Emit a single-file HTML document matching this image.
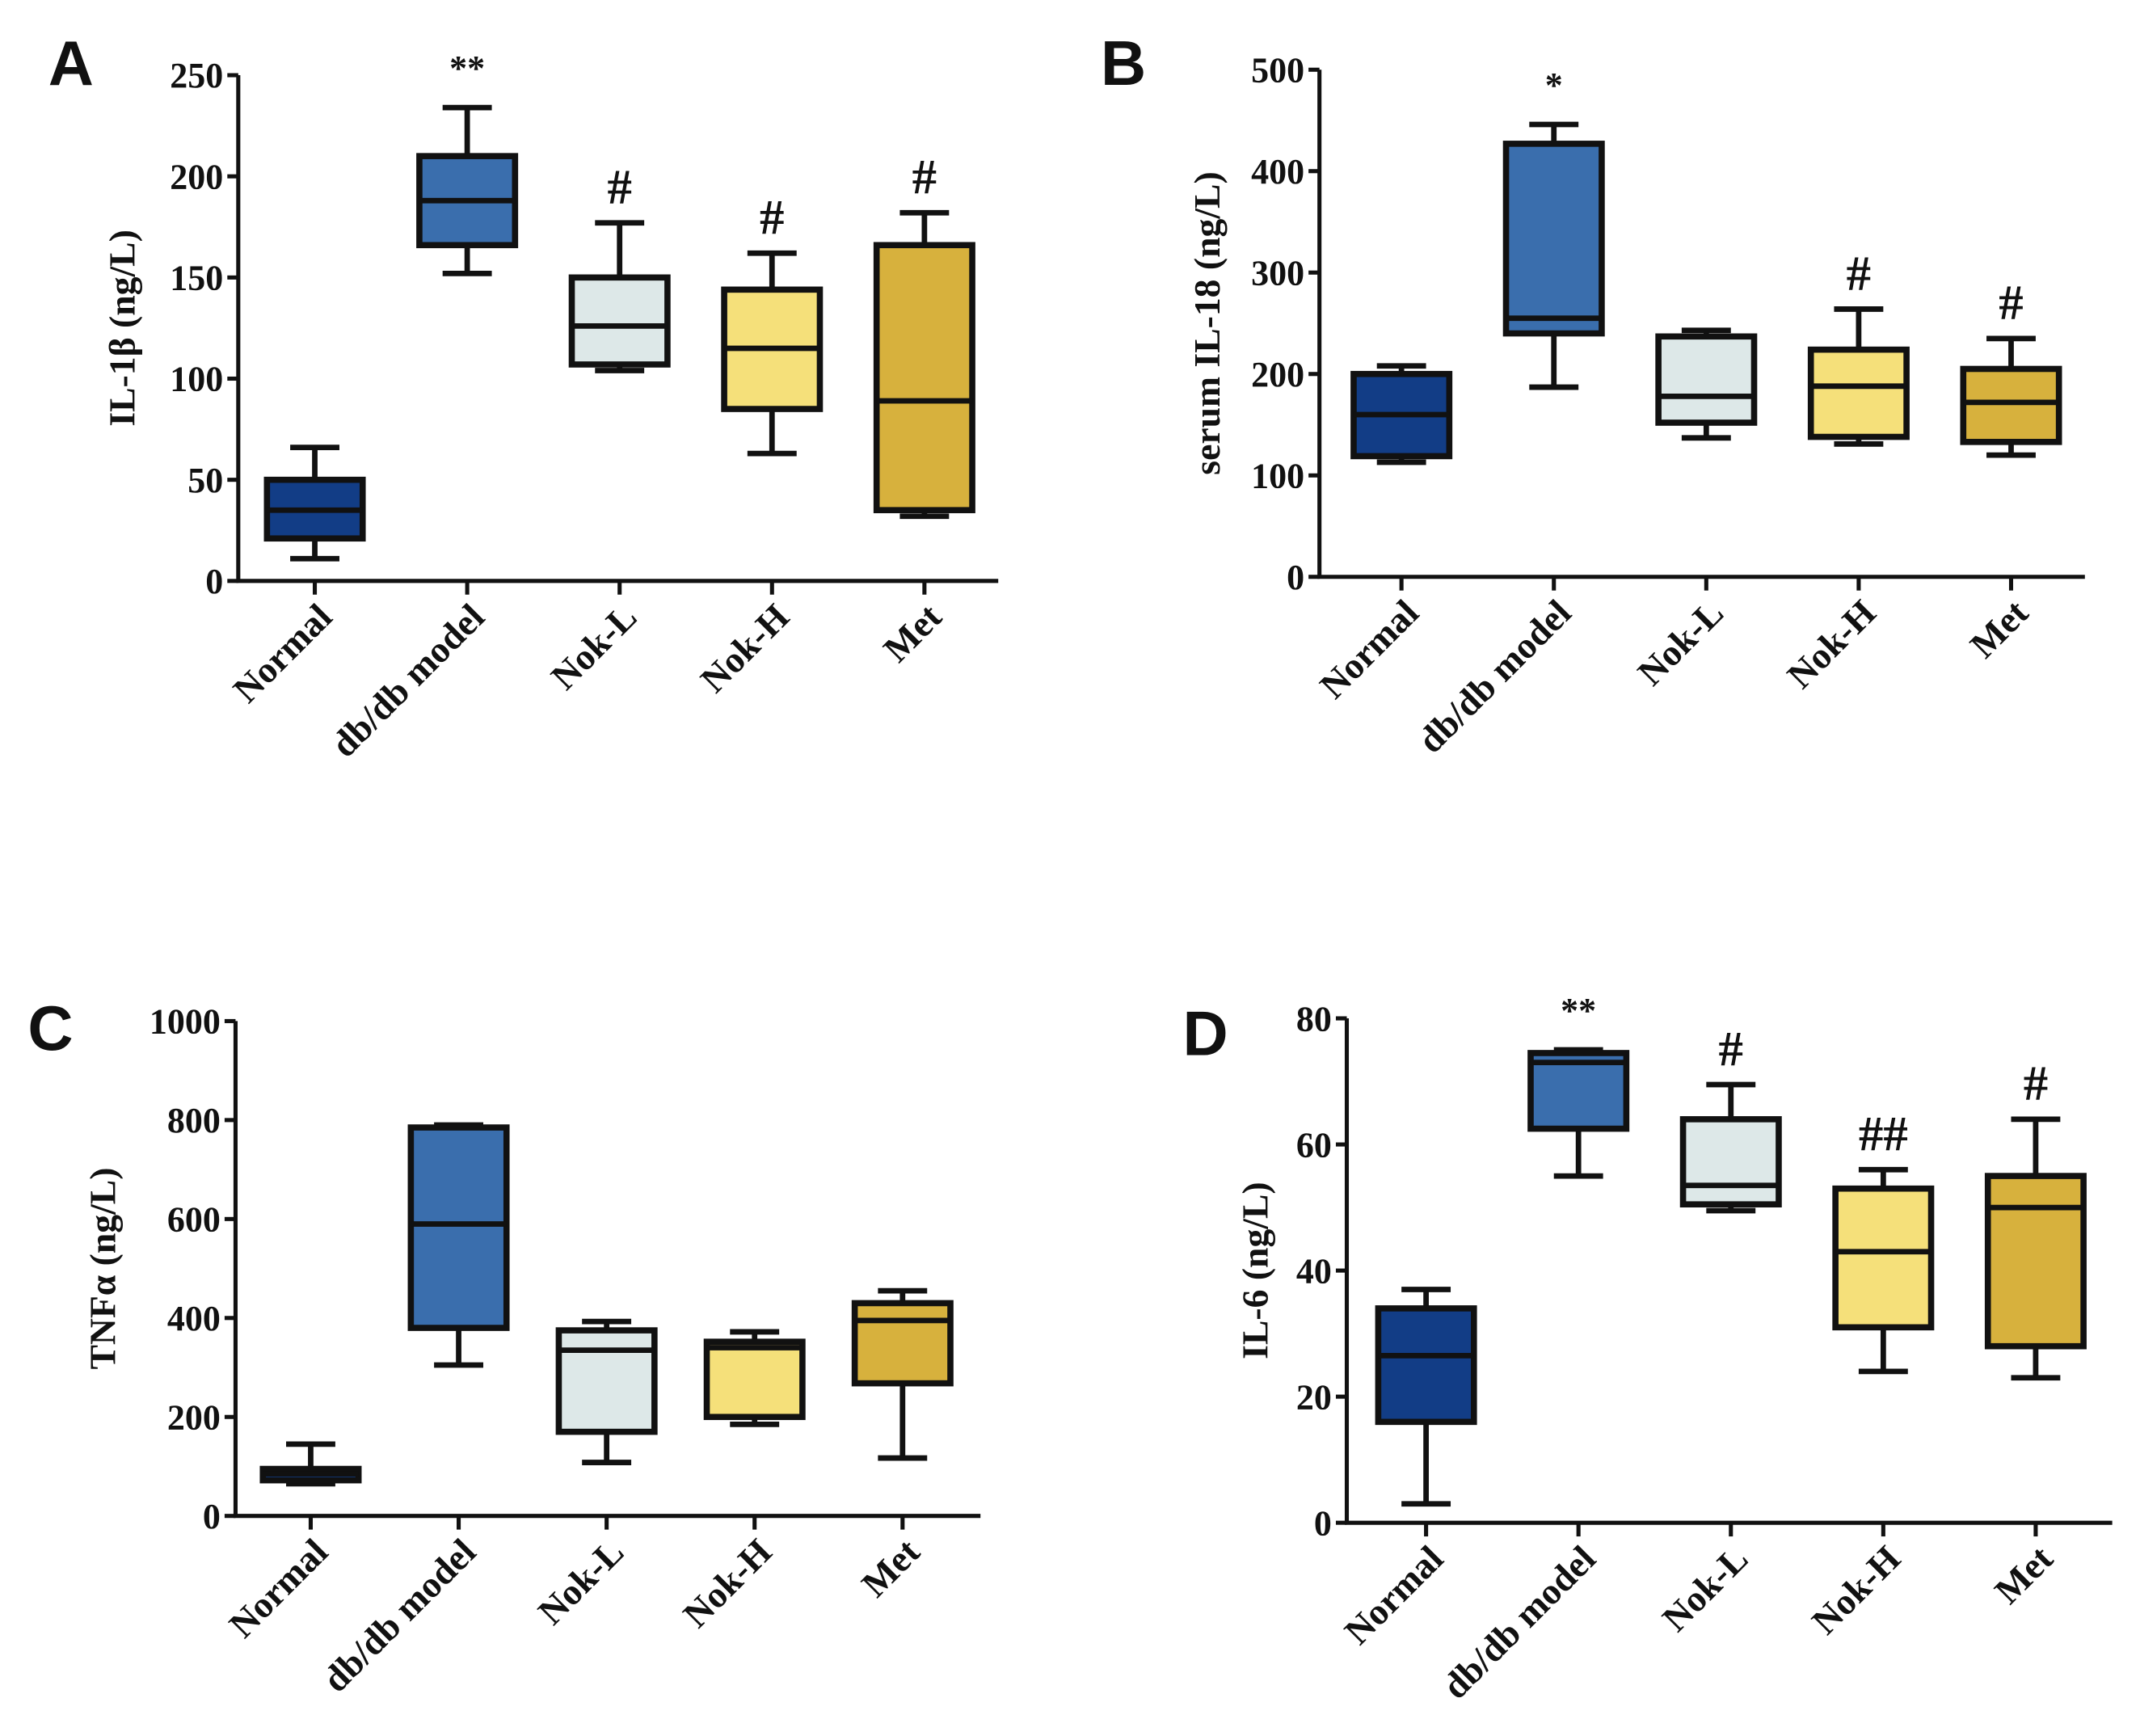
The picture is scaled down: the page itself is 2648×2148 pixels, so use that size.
<!DOCTYPE html>
<html><head><meta charset="utf-8"><style>
html,body{margin:0;padding:0;background:#fff;}
svg{display:block;}
text{font-family:"Liberation Serif",serif;font-weight:bold;fill:#111;}
.lbl{font-family:"Liberation Sans",sans-serif;}
</style></head><body>
<svg id="fig" width="2648" height="2148" viewBox="0 0 1565 1270" xmlns="http://www.w3.org/2000/svg"></svg>
<script>
const categories = ["Normal","db/db model","Nok-L","Nok-H","Met"];
const colors = ["#123d86","#3a6ead","#dde8e8","#f5e07a","#d7b13d"];
// [min, q1, median, q3, max]
const seriesA = [[11,21,35,50,66],[152,166,188,210,234],[104,107,126,150,177],[63,85,115,144,162],[32,35,89,166,182]];
const seriesB = [[113,119,160,200,208],[187,240,255,427,446],[137,152,178,237,243],[131,138,188,224,264],[120,133,172,205,235]];
const seriesC = [[65,72,85,95,145],[305,380,590,785,790],[108,170,335,375,393],[185,200,340,352,372],[117,268,395,430,455]];
const seriesD = [[3,16,26.5,34,37],[55,62.5,73,74.5,75],[49.5,50.5,53.5,64,69.5],[24,31,43,53,56],[23,28,50,55,64]];
const ticksA = [0,50,100,150,200,250];
const ticksB = [0,100,200,300,400,500];
const ticksC = [0,200,400,600,800,1000];
const ticksD = [0,20,40,60,80];
const annotA = ["","**","#","#","#"];
const annotB = ["","*","","#","#"];
const annotC = ["","","","",""];
const annotD = ["","**","#","##","#"];

const NS="http://www.w3.org/2000/svg";
const svg=document.getElementById('fig');
function mk(tag,attrs,parent){const e=document.createElementNS(NS,tag);for(const k in attrs)e.setAttribute(k,attrs[k]);(parent||svg).appendChild(e);return e;}

function panel(cfg,series,ticks,annot){
  const g=mk('g',{});
  
  
  const ymax=ticks[ticks.length-1];
  const y=v=>cfg.y0-(v/ymax)*(cfg.y0-cfg.y1);
  const x=i=>cfg.cx0+i*cfg.step;
  const ax=mk('path',{d:`M${cfg.ax} ${cfg.y1} V${cfg.y0} H${cfg.xend}`,stroke:'#111','stroke-width':3,fill:'none'},g);
  
  
  ticks.forEach(t=>{
    mk('line',{x1:cfg.ax-8,x2:cfg.ax,y1:y(t),y2:y(t),stroke:'#111','stroke-width':3},g);
    const tl=mk('text',{x:cfg.ax-11,y:y(t)+9,'text-anchor':'end','font-size':26},g);
    tl.textContent=t;
    
    
  });
  const yt=mk('text',{x:0,y:0,'text-anchor':'middle','font-size':27,transform:`translate(${cfg.ytx},${(cfg.y0+cfg.y1)/2}) rotate(-90)`},g);
  yt.textContent=cfg.title;
  
  
  const pl=mk('text',{x:cfg.lx,y:cfg.ly,'font-size':46,class:'lbl'},g);
  pl.textContent=cfg.letter;
  
  
  const bw=70, cw=36;
  categories.forEach((c,i)=>{
    const cx=x(i), s=series[i];
    mk('line',{x1:cx,x2:cx,y1:cfg.y0,y2:cfg.y0+10,stroke:'#111','stroke-width':3},g);
    const xl=mk('text',{x:0,y:0,'text-anchor':'end','font-size':27,transform:`translate(${cx+14},${cfg.y0+28}) rotate(-45)`},g);
    xl.textContent=c;
    
    
    const bg=mk('g',{},g);
    
    
    mk('line',{x1:cx,x2:cx,y1:y(s[0]),y2:y(s[4]),stroke:'#111','stroke-width':4},bg);
    mk('line',{x1:cx-cw/2,x2:cx+cw/2,y1:y(s[0]),y2:y(s[0]),stroke:'#111','stroke-width':4},bg);
    mk('line',{x1:cx-cw/2,x2:cx+cw/2,y1:y(s[4]),y2:y(s[4]),stroke:'#111','stroke-width':4},bg);
    mk('rect',{x:cx-bw/2,y:y(s[3]),width:bw,height:y(s[1])-y(s[3]),fill:colors[i],stroke:'#111','stroke-width':4.5},bg);
    mk('line',{x1:cx-bw/2,x2:cx+bw/2,y1:y(s[2]),y2:y(s[2]),stroke:'#111','stroke-width':4},bg);
    if(annot[i]){
      const star=annot[i].indexOf('*')>=0;
      const at=mk('text',{x:cx,y:y(s[4])-(star?20:14),'text-anchor':'middle','font-size':star?26:36,'font-weight':'normal'},g);
      at.textContent=annot[i];
      
      
    }
  });
}
panel({letter:'A',ax:174,y0:425,y1:55,cx0:230,step:111.5,xend:730,ytx:98,lx:35,ly:62,title:'IL-1β (ng/L)'},seriesA,ticksA,annotA);
panel({letter:'B',ax:965,y0:422,y1:51,cx0:1025,step:111.5,xend:1525,ytx:892,lx:805,ly:62,title:'serum IL-18 (ng/L)'},seriesB,ticksB,annotB);
panel({letter:'C',ax:172,y0:1109,y1:747,cx0:227,step:108.25,xend:717,ytx:84,lx:20,ly:768,title:'TNFα (ng/L)'},seriesC,ticksC,annotC);
panel({letter:'D',ax:985,y0:1114,y1:745,cx0:1043,step:111.5,xend:1545,ytx:927,lx:865,ly:772,title:'IL-6 (ng/L)'},seriesD,ticksD,annotD);
</script>
</body></html>
